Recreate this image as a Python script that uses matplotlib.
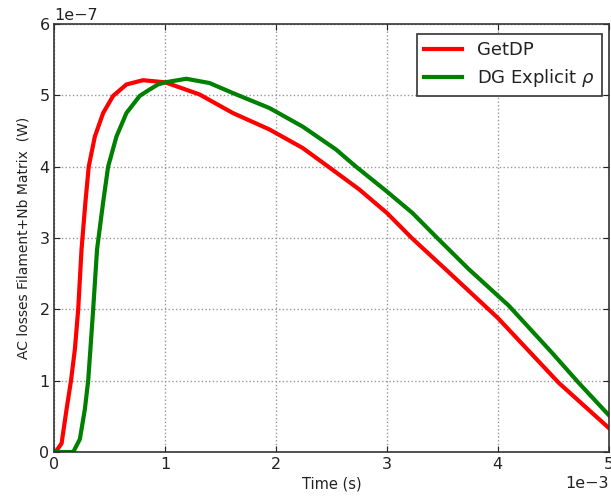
import matplotlib
matplotlib.use("Agg")
import matplotlib.pyplot as plt

# Time in ms (x 1e-3 s), losses in units of 1e-7 W
t_getdp = [0, 0.02, 0.065, 0.11, 0.15, 0.185, 0.215, 0.245, 0.28, 0.31, 0.365, 0.44, 0.53,
           0.65, 0.80, 1.0, 1.31, 1.61, 1.94, 2.24, 2.47, 2.75, 3.0, 3.23, 3.53, 4.0, 4.55, 5.0]
p_getdp = [0, 0.02, 0.12, 0.6, 1.0, 1.44, 2.0, 2.84, 3.5, 4.0, 4.42, 4.75, 4.99,
           5.15, 5.21, 5.18, 5.01, 4.75, 4.52, 4.26, 4.0, 3.68, 3.35, 2.99, 2.56, 1.88, 0.97, 0.34]

t_dg = [0, 0.17, 0.23, 0.275, 0.305, 0.325, 0.35, 0.385, 0.44, 0.485, 0.56, 0.65, 0.77,
        0.86, 0.935, 1.0, 1.19, 1.4, 1.61, 1.94, 2.24, 2.54, 2.72, 3.0, 3.23, 3.46, 3.74,
        4.10, 4.49, 4.73, 5.0]
p_dg = [0, 0, 0.18, 0.6, 1.0, 1.44, 2.0, 2.84, 3.5, 4.0, 4.42, 4.75, 4.99,
        5.08, 5.15, 5.18, 5.23, 5.17, 5.03, 4.82, 4.56, 4.24, 4.0, 3.65, 3.35, 2.99, 2.56,
        2.05, 1.39, 0.97, 0.52]

label_getdp = "GetDP"
label_dg = r"DG Explicit $\rho$"

txt = "#222222"
plt.rcParams['font.family'] = ['DejaVu Sans']
plt.rcParams['mathtext.fontset'] = 'dejavusans'

fig = plt.figure(figsize=(6.11, 4.96), dpi=100)
ax = fig.add_axes([0.089, 0.0887, 0.907, 0.8633])

ax.plot([x * 1e-3 for x in t_getdp], [y * 1e-7 for y in p_getdp], color='#ff0000', lw=3, label=label_getdp)
ax.plot([x * 1e-3 for x in t_dg], [y * 1e-7 for y in p_dg], color='#008000', lw=3, label=label_dg)

ax.set_xlim(0, 5e-3)
ax.set_ylim(0, 6e-7)
ax.set_xticks([i * 1e-3 for i in range(6)])
ax.set_yticks([i * 1e-7 for i in range(7)])
ax.ticklabel_format(style='sci', scilimits=(0, 0), axis='both')
ax.grid(True, color='#999999', linestyle=':', linewidth=1)
ax.tick_params(direction='in', top=True, right=True, labelsize=11.5, colors=txt, length=4)
for s in ax.spines.values():
    s.set_color('#333333')
    s.set_linewidth(1.2)
for ot in (ax.xaxis.get_offset_text(), ax.yaxis.get_offset_text()):
    ot.set_fontsize(11.5)
    ot.set_color(txt)

ax.set_xlabel("Time (s)", fontsize=10.5, color=txt, labelpad=3)
ax.set_ylabel("AC losses Filament+Nb Matrix  (W)", fontsize=10, color=txt, labelpad=6)

leg = ax.legend(loc='upper right', fontsize=13, fancybox=False, framealpha=1,
                edgecolor='#333333', borderpad=0.4, handlelength=2.1, labelspacing=0.45,
                borderaxespad=0, bbox_to_anchor=(0.988, 0.977))
leg.get_frame().set_linewidth(1.2)
for t in leg.get_texts():
    t.set_color(txt)

fig.savefig("out.png", dpi=100)
